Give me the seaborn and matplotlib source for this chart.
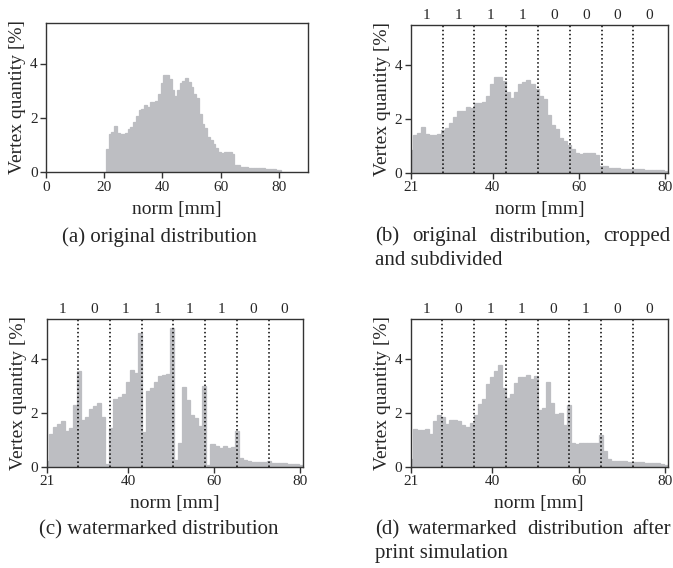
import numpy as np
import pandas as pd
import matplotlib
matplotlib.use("Agg")
import matplotlib.pyplot as plt
import seaborn as sns

# histogram bins (mm)
bin_start = 20.56
bin_width = 0.94
n_bins = 64

# vertex quantity [%] per bin
orig = [0.86, 1.42, 1.49, 1.71, 1.45, 1.42, 1.42, 1.45, 1.61, 1.68,
        1.86, 2.07, 2.29, 2.32, 2.46, 2.40, 2.60, 2.60, 2.62, 2.87,
        3.30, 3.58, 3.58, 3.43, 3.02, 2.80, 3.02, 3.30, 3.37, 3.45,
        3.32, 3.14, 2.87, 2.75, 2.16, 1.78, 1.63, 1.30, 1.18, 1.04,
        0.89, 0.73, 0.70, 0.73, 0.73, 0.73, 0.68, 0.26, 0.26, 0.19,
        0.19, 0.19, 0.15, 0.15, 0.15, 0.15, 0.14, 0.14, 0.12, 0.12,
        0.11, 0.11, 0.10, 0.07]

marked = [0.21, 1.21, 1.47, 1.58, 1.70, 1.32, 1.44, 2.29, 3.56, 1.73,
          1.84, 2.14, 2.25, 2.36, 1.84, 0.10, 1.45, 2.51, 2.59, 2.70,
          3.14, 3.59, 3.48, 4.98, 1.29, 2.81, 2.92, 3.14, 3.37, 3.42,
          3.44, 5.17, 0.25, 0.88, 2.96, 2.48, 1.92, 1.81, 1.51, 3.00,
          0.07, 0.84, 0.77, 0.69, 0.77, 0.69, 0.73, 1.32, 0.32, 0.25,
          0.21, 0.17, 0.17, 0.17, 0.17, 0.21, 0.14, 0.14, 0.14, 0.14,
          0.11, 0.11, 0.11, 0.07]

printed = [0.28, 1.40, 1.36, 1.36, 1.40, 1.21, 1.70, 1.92, 1.84, 1.58,
           1.73, 1.73, 1.70, 1.55, 1.47, 1.62, 1.92, 2.33, 2.51, 3.07,
           3.33, 3.55, 3.77, 2.92, 2.55, 2.70, 3.11, 3.33, 3.33, 3.40,
           3.28, 3.37, 2.10, 2.18, 3.14, 2.36, 1.96, 1.99, 1.55, 2.29,
           0.88, 0.84, 0.88, 0.88, 0.88, 0.88, 0.88, 1.18, 0.58, 0.28,
           0.21, 0.21, 0.21, 0.21, 0.17, 0.17, 0.17, 0.17, 0.14, 0.14,
           0.14, 0.14, 0.10, 0.06]

# watermark bits per interval
bits_b = [1, 1, 1, 1, 0, 0, 0, 0]
bits_c = [1, 0, 1, 1, 1, 1, 0, 0]
bits_d = [1, 0, 1, 1, 0, 1, 0, 0]
crop_lo, crop_hi = 21, 80

xticks_full = [0, 20, 40, 60, 80]
xticks_crop = [21, 40, 60, 80]
yticks = [0, 2, 4]

sns.set_style("ticks")
plt.rcParams['font.family'] = ['Liberation Serif', 'DejaVu Serif']
plt.rcParams['axes.edgecolor'] = '#333333'
plt.rcParams['axes.linewidth'] = 1.0

W, H = 673, 568
fig = plt.figure(figsize=(W / 100, H / 100), dpi=100)

bar_col = '#bdbec2'
edges = (bin_start + bin_width * np.arange(n_bins + 1)).tolist()
centers = [(lo + hi) / 2 for lo, hi in zip(edges[:-1], edges[1:])]
n_int = len(bits_b)
seg = (crop_hi - crop_lo) / n_int

def px_axes(l, t, r, b):
    return fig.add_axes([l / W, 1 - b / H, (r - l) / W, (b - t) / H])

def draw_hist(ax, heights, xlim, xticks):
    df = pd.DataFrame({'norm': centers, 'pct': heights})
    sns.histplot(data=df, x='norm', weights='pct', bins=edges, ax=ax,
                 color=bar_col, alpha=1, edgecolor=bar_col, linewidth=0.9)
    ax.set_xlim(*xlim)
    ax.set_ylim(0, 5.5)
    ax.set_xticks(xticks)
    ax.set_yticks(yticks)
    ax.tick_params(labelsize=11, length=4, width=1, color='#333333', pad=2)
    ax.set_xlabel('norm [mm]', fontsize=14, labelpad=5)
    ax.set_ylabel('Vertex quantity [%]', fontsize=14, labelpad=3)
    for s in ax.spines.values():
        s.set_visible(True)
        s.set_zorder(5)

def draw_bits(ax, bits):
    for i in range(1, n_int):
        ax.axvline(crop_lo + i * seg, color='k', ls=':', lw=1.1)
    for i, b in enumerate(bits):
        ax.annotate(str(b), xy=(crop_lo + (i + 0.5) * seg, 1),
                    xycoords=('data', 'axes fraction'), xytext=(0, 6.5),
                    textcoords='offset points', ha='center', va='center',
                    fontsize=11)

ax_a = px_axes(46, 22.7, 308, 172.3)
draw_hist(ax_a, orig, (0, 90), xticks_full)

ax_b = px_axes(410.7, 25, 668.3, 173)
draw_hist(ax_b, orig, (21, 80.7), xticks_crop)
draw_bits(ax_b, bits_b)

ax_c = px_axes(46.7, 319, 303.3, 466.7)
draw_hist(ax_c, marked, (21, 80.7), xticks_crop)
draw_bits(ax_c, bits_c)

ax_d = px_axes(410.7, 319, 667.7, 466.7)
draw_hist(ax_d, printed, (21, 80.7), xticks_crop)
draw_bits(ax_d, bits_d)

cap_fs = 15

def centered(text, xc, yc):
    fig.text(xc / W, 1 - yc / H, text, ha='center', va='center', fontsize=cap_fs)

def justified(line, x0, x1, yc):
    words = line.split()
    texts = [fig.text(0, 1 - yc / H, w, ha='left', va='center', fontsize=cap_fs)
             for w in words]
    fig.canvas.draw()
    r = fig.canvas.get_renderer()
    widths = [t.get_window_extent(r).width for t in texts]
    gap = (x1 - x0 - sum(widths)) / (len(words) - 1)
    x = x0
    for t, w in zip(texts, widths):
        t.set_x(x / W)
        x += w + gap

def left(text, x0, yc):
    fig.text(x0 / W, 1 - yc / H, text, ha='left', va='center', fontsize=cap_fs)

centered('(a) original distribution', 159, 236.7)
justified('(b) original distribution, cropped', 375, 671, 236.7)
left('and subdivided', 375, 260)
centered('(c) watermarked distribution', 159, 530)
justified('(d) watermarked distribution after', 375, 671, 530)
left('print simulation', 375, 553.5)

fig.savefig('out.png', dpi=100)
